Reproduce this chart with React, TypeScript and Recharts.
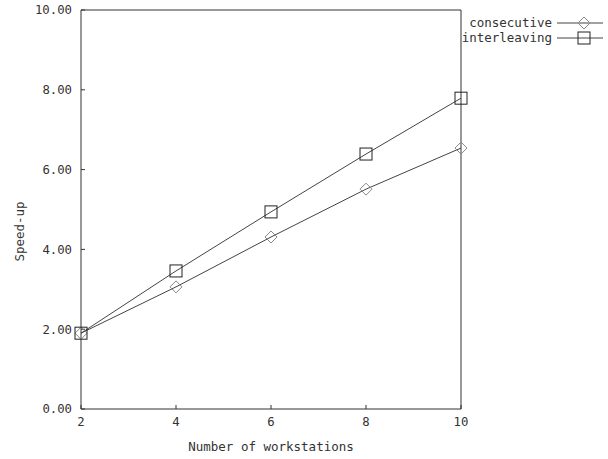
import {
  LineChart,
  Line,
  XAxis,
  YAxis,
  Legend,
  Label,
} from 'recharts'

const workstations = [2, 4, 6, 8, 10]
const consecutive = [1.9, 3.06, 4.31, 5.51, 6.54]
const interleaving = [1.9, 3.46, 4.94, 6.39, 7.79]
const xTicks = [2, 4, 6, 8, 10]
const yTicks = [0, 2, 4, 6, 8, 10]

const data = workstations.map((n, i) => ({
  n,
  consecutive: consecutive[i],
  interleaving: interleaving[i],
}))

const FONT = '"DejaVu Sans Mono", "Liberation Mono", monospace'
const AXIS = '#333'
const TEXT = '#333'
const LINE = '#444'
const DIAMOND = '#888'
const SQUARE = '#222'

const Diamond = ({ cx, cy }: { cx: number; cy: number }) => (
  <path
    d={`M${cx},${cy - 6}L${cx + 6},${cy}L${cx},${cy + 6}L${cx - 6},${cy}Z`}
    fill="none"
    stroke={DIAMOND}
    strokeWidth={1}
  />
)

const Square = ({ cx, cy }: { cx: number; cy: number }) => (
  <rect x={cx - 6} y={cy - 6} width={12} height={12} fill="none" stroke={SQUARE} strokeWidth={1} />
)

const legendRows = [
  { name: 'consecutive', marker: Diamond },
  { name: 'interleaving', marker: Square },
]

function LegendBox() {
  return (
    <svg width={608} height={50}>
      {legendRows.map((r, i) => {
        const y = 23 + i * 15
        const M = r.marker
        return (
          <g key={r.name}>
            <text x={552} y={y} dy="0.35em" textAnchor="end" fontFamily={FONT} fontSize={12.5} fill={TEXT}>
              {r.name}
            </text>
            <line x1={557} x2={603} y1={y} y2={y} stroke={LINE} />
            <M cx={584} cy={y} />
          </g>
        )
      })}
    </svg>
  )
}

const tickStyle = { fontSize: 12.3, fontFamily: FONT, fill: TEXT }

export default function App() {
  return (
    <div style={{ position: 'absolute', left: 0, top: 0, background: '#fff' }}>
      <LineChart width={608} height={459} data={data} margin={{ top: 9, right: 146, bottom: 0, left: 0 }}>
        <XAxis
          dataKey="n"
          type="number"
          domain={[2, 10]}
          ticks={xTicks}
          height={50}
          tickSize={-4}
          tickMargin={12}
          tick={tickStyle}
          stroke={AXIS}
          tickLine={{ stroke: AXIS }}
        >
          <Label
            value="Number of workstations"
            position="insideBottom"
            offset={8}
            style={{ fontSize: 12.5, fontFamily: FONT, fill: TEXT }}
          />
        </XAxis>
        <XAxis
          xAxisId="top"
          orientation="top"
          dataKey="n"
          type="number"
          domain={[2, 10]}
          ticks={xTicks}
          height={1}
          tickSize={-4}
          tick={false}
          stroke={AXIS}
          tickLine={{ stroke: AXIS }}
        />
        <YAxis
          type="number"
          domain={[0, 10]}
          ticks={yTicks}
          width={81}
          tickSize={-4}
          tickMargin={13}
          tickFormatter={(v: number) => v.toFixed(2)}
          tick={tickStyle}
          stroke={AXIS}
          tickLine={{ stroke: AXIS }}
        >
          <Label
            value="Speed-up"
            angle={-90}
            position="insideLeft"
            offset={20}
            dy={22}
            style={{ fontSize: 12.5, fontFamily: FONT, fill: TEXT, textAnchor: 'middle' }}
          />
        </YAxis>
        <YAxis
          yAxisId="right"
          orientation="right"
          type="number"
          domain={[0, 10]}
          ticks={yTicks}
          width={1}
          tickSize={-4}
          tick={false}
          stroke={AXIS}
          tickLine={{ stroke: AXIS }}
        />
        <Legend
          layout="horizontal"
          verticalAlign="middle"
          align="center"
          wrapperStyle={{ top: 0, left: 0, width: 608, height: 50 }}
          content={() => <LegendBox />}
        />
        <Line
          dataKey="consecutive"
          stroke={LINE}
          strokeWidth={1}
          isAnimationActive={false}
          dot={(p: any) => <Diamond key={`c${p.index}`} cx={p.cx} cy={p.cy} />}
          activeDot={false}
        />
        <Line
          dataKey="interleaving"
          stroke={LINE}
          strokeWidth={1}
          isAnimationActive={false}
          dot={(p: any) => <Square key={`s${p.index}`} cx={p.cx} cy={p.cy} />}
          activeDot={false}
        />
      </LineChart>
    </div>
  )
}
